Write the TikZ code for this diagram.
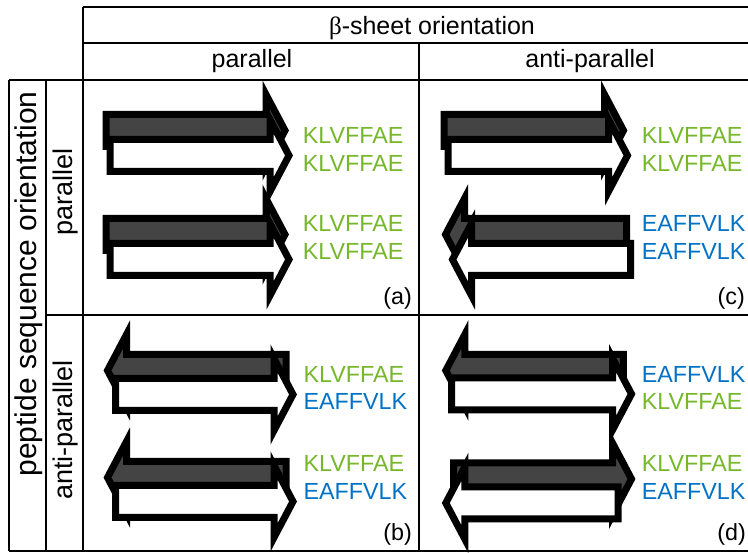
\documentclass[tikz,border=0pt]{standalone}
\usepackage{fontspec}
\setmainfont{Liberation Sans}
\newfontfamily\serifb{Liberation Serif}
\definecolor{kgreen}{RGB}{118,184,42}
\definecolor{eblue}{RGB}{0,114,198}
\definecolor{darkfill}{RGB}{68,68,68}
\tikzset{
  tline/.style={line width=2pt},
  strand/.style={line width=7pt, miter limit=10, line join=miter, draw=black},
  seqtxt/.style={anchor=base west, inner sep=0pt, font=\fontsize{23.3}{28}\selectfont},
  grn/.style={seqtxt, text=kgreen},
  blu/.style={seqtxt, text=eblue},
  lab/.style={anchor=base east, inner sep=0pt, font=\fontsize{23.3}{28}\selectfont},
  hdr/.style={anchor=base, inner sep=0pt, font=\fontsize{25}{30}\selectfont},
  sidebig/.style={anchor=base, inner sep=0pt, rotate=90, font=\fontsize{30}{35}\selectfont},
  sidesmall/.style={anchor=base, inner sep=0pt, rotate=90, font=\fontsize{27}{32}\selectfont},
}
% right-pointing strand: xa, xtip, yc, fill
\newcommand{\strandR}[4]{%
  \filldraw[strand, fill=#4] (#1,#3-16) -- (#2-19,#3-16) -- (#2-19,#3-36) -- (#2,#3)
    -- (#2-19,#3+36) -- (#2-19,#3+16) -- (#1,#3+16) -- cycle;}
% left-pointing strand: xtip, xend, yc, fill
\newcommand{\strandL}[4]{%
  \filldraw[strand, fill=#4] (#2,#3-16) -- (#1+19,#3-16) -- (#1+19,#3-36) -- (#1,#3)
    -- (#1+19,#3+36) -- (#1+19,#3+16) -- (#2,#3+16) -- cycle;}
\begin{document}
\begin{tikzpicture}[x=1pt,y=-1pt]
\useasboundingbox[fill=white] (0,0) rectangle (748,553);
% table grid
\draw[tline] (82.5,7) -- (748,7);
\draw[tline] (82.5,43) -- (748,43);
\draw[tline] (9,80) -- (748,80);
\draw[tline] (46,315) -- (748,315);
\draw[tline] (9,551) -- (748,551);
\draw[tline] (9,80) -- (9,551);
\draw[tline] (46,80) -- (46,551);
\draw[tline] (82.5,7) -- (82.5,551);
\draw[tline] (419.3,43) -- (419.3,551);
% headers
\node[hdr] (hbeta) at (432,35) {{\serifb β}-sheet orientation};
\node[hdr] (hpar) at (252,68) {parallel};
\node[hdr] (hanti) at (590,68) {anti-parallel};
\node[sidebig] (vpep) at (36.5,284) {peptide sequence orientation};
\node[sidesmall] (vpar) at (72.5,192) {parallel};
\node[sidesmall] (vanti) at (72.5,430) {anti-parallel};
% panel (a)
\strandR{106}{285}{130.5}{darkfill}
\strandR{110}{289}{155.5}{white}
\strandR{106}{285}{234.5}{darkfill}
\strandR{110}{289}{259.5}{white}
\node[grn] (a1) at (302.7,143.3) {KLVFFAE};
\node[grn] (a2) at (302.7,171.7) {KLVFFAE};
\node[grn] (a3) at (302.7,231.7) {KLVFFAE};
\node[grn] (a4) at (302.7,260) {KLVFFAE};
\node[lab] (la) at (412,305) {(a)};
% panel (c)
\strandR{444}{623.5}{130.5}{darkfill}
\strandR{448}{627.5}{155.5}{white}
\strandL{445.5}{626.5}{234.5}{darkfill}
\strandL{452.5}{630.5}{259.5}{white}
\node[grn] (c1) at (641.7,143.3) {KLVFFAE};
\node[grn] (c2) at (641.7,171.7) {KLVFFAE};
\node[blu] (c3) at (641.7,231.7) {EAFFVLK};
\node[blu] (c4) at (641.7,260) {EAFFVLK};
\node[lab] (lc) at (745,305) {(c)};
% panel (b)
\strandL{107.5}{286}{370.5}{darkfill}
\strandR{115.5}{293}{394.5}{white}
\strandL{107.5}{286}{477.5}{darkfill}
\strandR{115.5}{293}{501.5}{white}
\node[grn] (b1) at (303.4,383) {KLVFFAE};
\node[blu] (b2) at (303.4,410) {EAFFVLK};
\node[grn] (b3) at (303.4,472) {KLVFFAE};
\node[blu] (b4) at (303.4,500) {EAFFVLK};
\node[lab] (lb) at (412,541) {(b)};
% panel (d)
\strandL{445.8}{623.3}{370.5}{darkfill}
\strandR{451.5}{631.5}{394}{white}
\strandR{453.5}{631.5}{479}{darkfill}
\strandL{445.8}{618}{503}{white}
\node[blu] (d1) at (641.7,383) {EAFFVLK};
\node[grn] (d2) at (641.7,410) {KLVFFAE};
\node[grn] (d3) at (641.7,472) {KLVFFAE};
\node[blu] (d4) at (641.7,500) {EAFFVLK};
\node[lab] (ld) at (746,541) {(d)};
\end{tikzpicture}
\end{document}
